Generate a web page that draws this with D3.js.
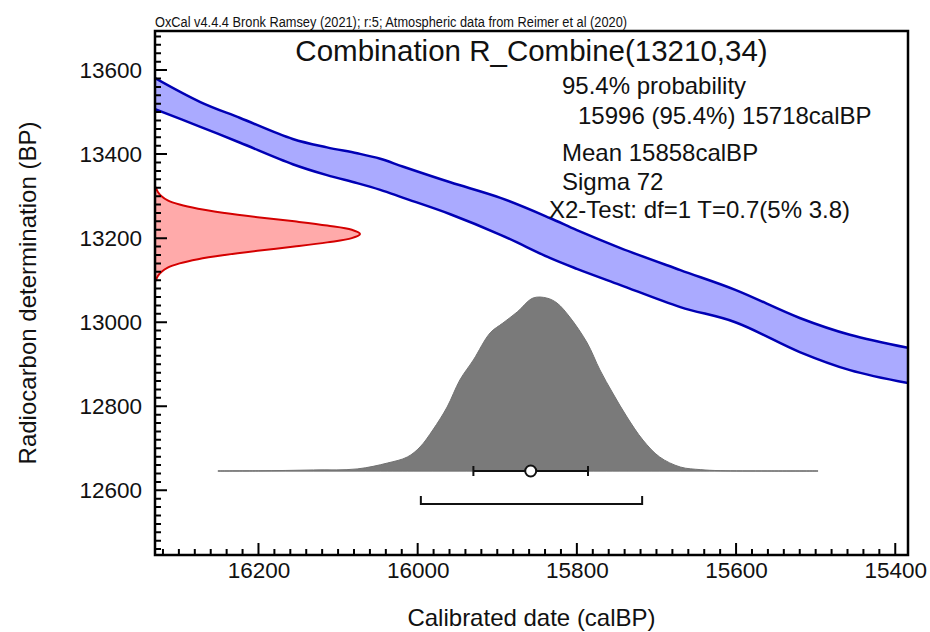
<!DOCTYPE html>
<html>
<head>
<meta charset="utf-8">
<script src="https://cdn.jsdelivr.net/npm/d3@7"></script>
<style>
	html, body { margin: 0; padding: 0; background: #fff; }
	#canvas { width: 930px; height: 632px; }
	text { font-family: 'Liberation Sans', Arial, sans-serif; fill: #111; }
</style>
</head>
<body>
<div id="canvas"></div>
<script>
// calibration curve band (calBP vs BP, upper and lower edge)
const curveAges = [16330, 16273, 16223, 16157, 16114, 16076, 16047, 16018, 15959, 15896, 15834, 15800, 15746, 15670, 15601, 15520, 15457, 15384];
const curveUpper = [13581, 13524, 13486, 13436, 13416, 13402, 13389, 13370, 13333, 13296, 13248, 13219, 13177, 13124, 13077, 13010, 12970, 12939];
const curveLower = [13507, 13465, 13427, 13376, 13350, 13331, 13315, 13296, 13257, 13208, 13153, 13127, 13089, 13036, 13000, 12929, 12886, 12855];

// radiocarbon measurement R_Combine(13210,34)
const r14Ages = [13320, 13310, 13300, 13290, 13280, 13270, 13260, 13250, 13240, 13230, 13220, 13210, 13200, 13190, 13180, 13170, 13160, 13150, 13140, 13130, 13120, 13110, 13100];
const r14Density = [0.005, 0.014, 0.032, 0.062, 0.12, 0.21, 0.34, 0.5, 0.68, 0.84, 0.96, 1, 0.96, 0.84, 0.68, 0.5, 0.34, 0.21, 0.12, 0.062, 0.032, 0.014, 0.005];

// calibrated (posterior) distribution
const postAges = [16251, 16200, 16131, 16076, 16038, 16013, 15997, 15981, 15963, 15947, 15930, 15909, 15893, 15875, 15855, 15838, 15825, 15809, 15787, 15771, 15755, 15737, 15717, 15696, 15670, 15645, 15620, 15560, 15497];
const postDensity = [0, 0.001, 0.006, 0.012, 0.046, 0.081, 0.139, 0.237, 0.37, 0.526, 0.642, 0.798, 0.855, 0.919, 1, 1, 0.971, 0.89, 0.74, 0.584, 0.451, 0.312, 0.179, 0.081, 0.023, 0.008, 0.002, 0, 0];

// summary values
const meanAge = 15858;
const sigmaAge = 72;
const range95 = [15996, 15718];

const xTicks = [16200, 16000, 15800, 15600, 15400];
const yTicks = [12600, 12800, 13000, 13200, 13400, 13600];

const headerText = 'OxCal v4.4.4 Bronk Ramsey (2021); r:5; Atmospheric data from Reimer et al (2020)';
const titleText = 'Combination R_Combine(13210,34)';
const statLines = [
	{ text: '95.4% probability', x: 562, y: 94 },
	{ text: '15996 (95.4%) 15718calBP', x: 578, y: 124 },
	{ text: 'Mean 15858calBP', x: 562, y: 161 },
	{ text: 'Sigma 72', x: 562, y: 190 },
	{ text: 'X2-Test: df=1 T=0.7(5% 3.8)', x: 549, y: 218 },
];

const chart = {
	width: 930,
	height: 632,
	margins: { top: 31, right: 22, bottom: 77, left: 155 },
};

drawChart();

function drawChart() {
	const { width, height, margins } = chart;
	const left = margins.left;
	const right = width - margins.right;
	const top = margins.top;
	const bottom = height - margins.bottom;

	const x = d3.scaleLinear().domain([16330, 15384]).range([left, right]);
	const y = d3.scaleLinear().domain([12446, 13693]).range([bottom, top]);

	const svg = d3.select('#canvas').append('svg').attr('width', width).attr('height', height);

	svg.append('defs')
		.append('clipPath')
		.attr('id', 'plotClip')
		.append('rect')
		.attr('x', left)
		.attr('y', top)
		.attr('width', right - left)
		.attr('height', bottom - top);

	const plot = svg.append('g').attr('clip-path', 'url(#plotClip)');

	// calibration band
	const band = curveAges.map((a, i) => ({ age: a, hi: curveUpper[i], lo: curveLower[i] }));
	plot.append('path')
		.datum(band)
		.attr('fill', '#aaaaff')
		.attr('d', d3.area().curve(d3.curveCatmullRom).x(d => x(d.age)).y0(d => y(d.lo)).y1(d => y(d.hi)));
	['hi', 'lo'].forEach(k => {
		plot.append('path')
			.datum(band)
			.attr('fill', 'none')
			.attr('stroke', '#0000b4')
			.attr('stroke-width', 2.5)
			.attr('d', d3.line().curve(d3.curveCatmullRom).x(d => x(d.age)).y(d => y(d[k])));
	});

	// radiocarbon date on the y axis
	const rx = d3.scaleLinear().domain([0, 1]).range([left, left + 205]);
	const r14 = r14Ages.map((a, i) => ({ age: a, p: r14Density[i] }));
	plot.append('path')
		.datum(r14)
		.attr('fill', '#ffaaaa')
		.attr('stroke', '#d40000')
		.attr('stroke-width', 2)
		.attr('d', d3.area().curve(d3.curveCatmullRom).y(d => y(d.age)).x0(left).x1(d => rx(d.p)));

	// calibrated distribution
	const distBase = 471;
	const py = d3.scaleLinear().domain([0, 1]).range([distBase, distBase - 173]);
	const post = postAges.map((a, i) => ({ age: a, p: postDensity[i] }));
	plot.append('line')
		.attr('x1', x(postAges[0]))
		.attr('x2', x(postAges[postAges.length - 1]))
		.attr('y1', distBase)
		.attr('y2', distBase)
		.attr('stroke', '#b8b8b8')
		.attr('stroke-width', 1.5);
	plot.append('path')
		.datum(post)
		.attr('fill', '#7a7a7a')
		.attr('stroke', '#727272')
		.attr('stroke-width', 1)
		.attr('d', d3.area().curve(d3.curveCatmullRom).x(d => x(d.age)).y0(distBase).y1(d => py(d.p)));

	// mean +- sigma
	const eb = plot.append('g').attr('stroke', '#111').attr('stroke-width', 2);
	eb.append('line')
		.attr('x1', x(meanAge + sigmaAge))
		.attr('x2', x(meanAge - sigmaAge))
		.attr('y1', distBase)
		.attr('y2', distBase);
	[meanAge + sigmaAge, meanAge - sigmaAge].forEach(v => {
		eb.append('line').attr('x1', x(v)).attr('x2', x(v)).attr('y1', distBase - 5).attr('y2', distBase + 5);
	});
	eb.append('circle').attr('cx', x(meanAge)).attr('cy', distBase).attr('r', 5.5).attr('fill', '#fff');

	// 95.4% range bar
	const rangeY = 504;
	plot.append('path')
		.attr('fill', 'none')
		.attr('stroke', '#111')
		.attr('stroke-width', 2)
		.attr('d', `M${x(range95[0])},${rangeY - 8}V${rangeY}H${x(range95[1])}V${rangeY - 8}`);

	// tick labels from the axes
	svg.append('g')
		.attr('transform', `translate(0,${bottom})`)
		.call(d3.axisBottom(x).tickValues(xTicks).tickSize(0).tickPadding(7).tickFormat(d3.format('d')))
		.call(g => g.selectAll('text').attr('font-size', 22.5).style('font-family', null))
		.call(g => g.selectAll('.domain, line').remove());
	svg.append('g')
		.attr('transform', `translate(${left},0)`)
		.call(d3.axisLeft(y).tickValues(yTicks).tickSize(0).tickPadding(13).tickFormat(d3.format('d')))
		.call(g => g.selectAll('text').attr('font-size', 22.5).style('font-family', null))
		.call(g => g.selectAll('.domain, line').remove());

	// frame
	svg.append('rect')
		.attr('x', left)
		.attr('y', top)
		.attr('width', right - left)
		.attr('height', bottom - top)
		.attr('fill', 'none')
		.attr('stroke', '#000')
		.attr('stroke-width', 2.5);

	// ticks, pointing inward (minor every 20)
	const xAll = d3.range(16320, 15380, -20);
	const yAll = d3.range(12460, 13700, 20);
	const isMajorX = d => xTicks.includes(d);
	const isMajorY = d => yTicks.includes(d);

	const xPath = xAll.map(d => `M${x(d)},${bottom}V${bottom - (isMajorX(d) ? 12 : 6)}`).join('');
	const yPath = yAll.map(d => `M${left},${y(d)}H${left + (isMajorY(d) ? 12 : 6)}`).join('');
	svg.append('path').attr('d', xPath).attr('stroke', '#000').attr('stroke-width', 2).attr('fill', 'none');
	svg.append('path').attr('d', yPath).attr('stroke', '#000').attr('stroke-width', 2).attr('fill', 'none');

	// texts
	svg.append('text')
		.attr('x', left)
		.attr('y', 27)
		.attr('font-size', 14)
		.attr('textLength', 472)
		.attr('lengthAdjust', 'spacingAndGlyphs')
		.text(headerText);

	svg.append('text')
		.attr('x', (left + right) / 2)
		.attr('y', 61)
		.attr('text-anchor', 'middle')
		.attr('font-size', 29.5)
		.text(titleText);

	svg.selectAll('text.stat')
		.data(statLines)
		.join('text')
		.attr('class', 'stat')
		.attr('x', d => d.x)
		.attr('y', d => d.y)
		.attr('font-size', 24)
		.text(d => d.text);

	svg.append('text')
		.attr('x', (left + right) / 2)
		.attr('y', 626)
		.attr('text-anchor', 'middle')
		.attr('font-size', 24)
		.text('Calibrated date (calBP)');

	svg.append('text')
		.attr('transform', `translate(36,${(top + bottom) / 2}) rotate(-90)`)
		.attr('text-anchor', 'middle')
		.attr('font-size', 24)
		.text('Radiocarbon determination (BP)');
}
</script>
</body>
</html>
